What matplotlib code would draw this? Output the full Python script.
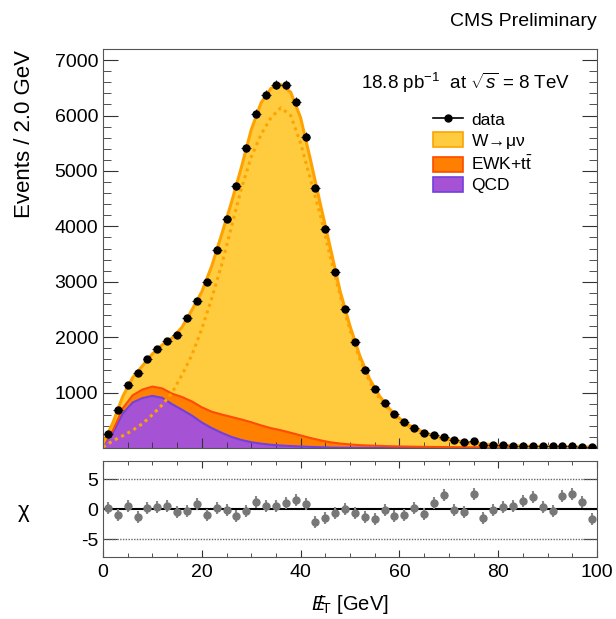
import numpy as np
import matplotlib
matplotlib.use("Agg")
import matplotlib.pyplot as plt
from matplotlib.lines import Line2D
from matplotlib.patches import Patch

plt.rcParams["font.family"] = ["Liberation Sans", "DejaVu Sans"]
plt.rcParams["mathtext.fontset"] = "custom"
plt.rcParams["mathtext.rm"] = "Liberation Sans"
plt.rcParams["mathtext.it"] = "Liberation Sans:italic"
plt.rcParams["mathtext.bf"] = "Liberation Sans:bold"

# measured MET spectrum, 2 GeV bins
bin_centers = [1, 3, 5, 7, 9, 11, 13, 15, 17, 19, 21, 23, 25, 27, 29, 31, 33, 35, 37, 39,
               41, 43, 45, 47, 49, 51, 53, 55, 57, 59, 61, 63, 65, 67, 69, 71, 73, 75, 77, 79,
               81, 83, 85, 87, 89, 91, 93, 95, 97, 99]
data_counts = [244, 678, 1130, 1353, 1606, 1787, 1926, 2040, 2342, 2655,
               2998, 3580, 4137, 4729, 5410, 6031, 6374, 6555, 6555, 6248,
               5620, 4698, 3957, 3168, 2510, 1908, 1414, 1070, 817, 611,
               461, 365, 262, 231, 205, 145, 102, 120, 63, 48,
               48, 45, 43, 38, 35, 28, 32, 30, 25, 18]
pulls = [0.1, -1.0, 0.55, -1.3, 0.2, 0.3, 0.5, -0.55, -0.3, 0.85,
         -1.0, 0.1, -0.15, -1.15, -0.35, 1.1, 0.5, 0.5, 1.0, 1.5,
         0.85, -2.1, -1.45, -0.7, -0.05, -0.7, -1.35, -1.6, -0.2, -1.15,
         -1.0, 0.2, -0.85, 0.95, 2.35, -0.2, -0.45, 2.5, -1.45, -0.15,
         0.35, 0.45, 1.4, 1.95, 0.35, -0.35, 2.15, 2.5, 1.2, -1.7]

# fit components
met_grid = list(range(0, 101, 2))
qcd = [60, 270, 620, 820, 900, 940, 905, 790, 690, 585,
       460, 360, 275, 200, 145, 105, 78, 58, 45, 35,
       27, 20, 14, 8, 5, 4, 3, 2, 2, 1,
       1, 1, 1, 1, 1, 1, 1, 1, 1, 1,
       1, 1, 1, 1, 1, 1, 1, 1, 1, 1, 1]
ewk = [10, 50, 95, 130, 155, 168, 170, 190, 230, 255,
       275, 295, 330, 360, 370, 360, 330, 300, 275, 240,
       200, 160, 125, 95, 75, 60, 48, 42, 36, 31,
       27, 24, 21, 19, 17, 15, 13, 12, 11, 10,
       9, 8, 7, 7, 6, 6, 5, 5, 4, 4, 4]
wmunu = [10, 136, 215, 320, 430, 590, 785, 1005, 1260, 1650,
         2085, 2625, 3245, 3870, 4545, 5275, 5822, 6132, 6240, 6145,
         5733, 5020, 4261, 3517, 2750, 2136, 1609, 1196, 897, 673,
         507, 385, 296, 232, 177, 144, 111, 87, 70, 54,
         42, 35, 30, 25, 22, 19, 17, 14, 13, 11, 10]
wmunu_shape = [15, 130, 220, 320, 440, 600, 780, 1000, 1320, 1680,
               2150, 2700, 3300, 3990, 4680, 5250, 5660, 5960, 6140, 6000,
               5500, 4850, 4200, 3450, 2750, 2130, 1600, 1190, 890, 670,
               505, 385, 300, 238, 175, 142, 110, 86, 69, 54,
               43, 36, 30, 26, 22, 19, 17, 15, 13, 12, 11]

x_ticks = [0, 20, 40, 60, 80, 100]
y_ticks = [1000, 2000, 3000, 4000, 5000, 6000, 7000]
pull_ticks = [-5, 0, 5]

c_w, c_w_edge = "#FFCC40", "#FFA200"
c_ewk, c_ewk_edge = "#FF7F00", "#FF4A00"
c_qcd, c_qcd_edge = "#A552D4", "#7040E0"
frame_col = "#555555"

x = np.array(met_grid)
lvl1 = np.array(qcd)
lvl2 = lvl1 + np.array(ewk)
lvl3 = lvl2 + np.array(wmunu)

fig = plt.figure(figsize=(6.16, 6.19), dpi=100)
ax = fig.add_axes([103 / 616, 1 - 448 / 619, 494 / 616, 399 / 619])
axr = fig.add_axes([103 / 616, 1 - 557 / 619, 494 / 616, 96 / 619])

# stacked fit
ax.fill_between(x, lvl2, lvl3, color=c_w, lw=0)
ax.fill_between(x, lvl1, lvl2, color=c_ewk, lw=0)
ax.fill_between(x, 0, lvl1, color=c_qcd, lw=0)
ax.plot(x, lvl1, color=c_qcd_edge, lw=1.5)
ax.plot(x, lvl2, color=c_ewk_edge, lw=1.5)
ax.plot(x, lvl3, color=c_w_edge, lw=2.2)
ax.plot(x, wmunu_shape, color=c_w_edge, lw=2.2, ls=(0, (1, 1.3)))

# data
counts = np.array(data_counts)
ax.errorbar(bin_centers, counts, xerr=1, yerr=np.sqrt(counts), fmt="o", color="black",
            ecolor="#222222", elinewidth=0.8, markersize=5, capsize=0, zorder=5)

ax.set_xlim(0, 100)
ax.set_ylim(0, 7200)
ax.set_xticks(x_ticks)
ax.set_xticks(np.arange(0, 101, 5), minor=True)
ax.set_yticks(y_ticks)
ax.set_yticks(np.arange(0, 7201, 200), minor=True)
ax.set_xticklabels([])
ax.tick_params(axis="both", which="both", direction="in", top=False, right=True,
               labelsize=14, color="#333333")
ax.tick_params(axis="y", which="major", length=11)
ax.tick_params(axis="y", which="minor", length=6)
ax.tick_params(axis="x", which="major", length=7)
ax.tick_params(axis="x", which="minor", length=4.5)
for s in ax.spines.values():
    s.set_color(frame_col)

handles = [Line2D([], [], color="black", marker="o", markersize=5, lw=1.2),
           Patch(facecolor=c_w, edgecolor=c_w_edge, lw=1.2),
           Patch(facecolor=c_ewk, edgecolor=c_ewk_edge, lw=1.2),
           Patch(facecolor=c_qcd, edgecolor=c_qcd_edge, lw=1.2)]
labels = ["data", "W$\\!\\rightarrow\\!$\u03bc\u03bd", r"EWK+t$\bar{\mathrm{t}}$", "QCD"]
ax.legend(handles, labels, loc="upper left", bbox_to_anchor=(0.668, 0.843), frameon=False,
          fontsize=12.5, handlelength=1.75, handleheight=0.95, labelspacing=0.22,
          handletextpad=0.45, borderaxespad=0, borderpad=0)

ax.text(0.945, 0.915, r"18.8 pb$^{-1}$  at $\sqrt{s}$ = 8 TeV", transform=ax.transAxes,
        ha="right", va="center", fontsize=13.5)

# pull panel
axr.axhline(0, color="black", lw=1.5)
axr.axhline(5, color="#666666", lw=1, ls=(0, (1, 1)))
axr.axhline(-5, color="#666666", lw=1, ls=(0, (1, 1)))
axr.errorbar(bin_centers, pulls, yerr=1, fmt="o", color="#777777", ecolor="#888888",
             elinewidth=1.5, markersize=5, capsize=0, zorder=5)
axr.set_xlim(0, 100)
axr.set_ylim(-8, 8)
axr.set_xticks(x_ticks)
axr.set_xticks(np.arange(0, 101, 5), minor=True)
axr.set_yticks(pull_ticks)
axr.set_yticklabels(["-5", "0", "5"])
axr.tick_params(axis="both", which="both", direction="in", top=True, right=True,
                labelsize=14, color="#333333")
axr.tick_params(axis="x", which="major", length=5, pad=5)
axr.tick_params(axis="x", which="minor", length=3)
axr.tick_params(axis="y", which="major", length=10)
for s in axr.spines.values():
    s.set_color(frame_col)

fig.text(597 / 616, 1 - 22 / 619, "CMS Preliminary", ha="right", va="center", fontsize=14)
fig.text(25 / 616, 1 - 50 / 619, "Events / 2.0 GeV", rotation=90, ha="center", va="top",
         fontsize=16)
fig.text(24 / 616, 1 - 511 / 619, "\u03c7", ha="center", va="center", fontsize=16)
fig.text(350 / 616, 1 - 605 / 619, r"$E\!\!\!/_{\mathrm{T}}$ [GeV]", ha="center",
         va="center", fontsize=14.5)

fig.savefig("out.png", dpi=100)
